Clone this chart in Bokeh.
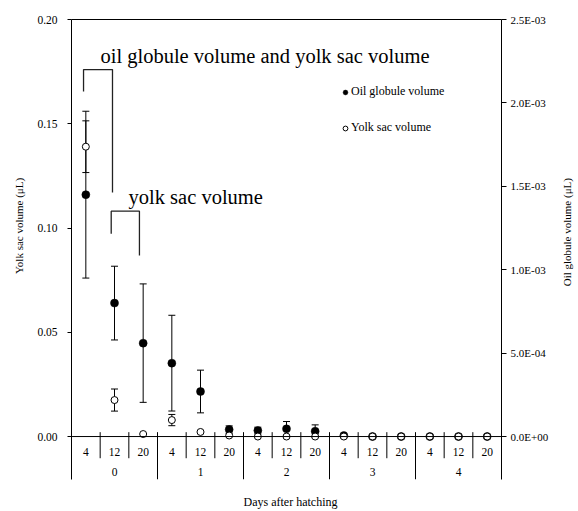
import numpy as np
from bokeh.plotting import figure
from bokeh.models import (Range1d, LinearAxis, FixedTicker, CustomJSTickFormatter,
                          PrintfTickFormatter, Whisker, TeeHead, ColumnDataSource, Span,
                          Label, Legend, LegendItem)
from bokeh.embed import file_html
from bokeh.resources import INLINE
from bokeh.core.properties import value

# Sampling schedule: days after hatching, and hour of day within each day
days = ["0", "1", "2", "3", "4"]
hours = ["4", "12", "20"]

# Yolk sac volume (uL), mean and SD, one value per sampling time
yolk_mean = [0.139, 0.0175, 0.0012, 0.0079, 0.0022, 0.0005, 0.0, 0.0, 0.0, 0.0,
             0.0, 0.0, 0.0, 0.0, 0.0]
yolk_sd = [0.0124, 0.0053, 0.0, 0.0027, 0.0, 0.0, 0.0, 0.0, 0.0, 0.0,
           0.0, 0.0, 0.0, 0.0, 0.0]

# Oil globule volume (uL), mean and SD
oil_mean = [1.45e-3, 0.80e-3, 0.56e-3, 0.44e-3, 0.27e-3, 0.042e-3, 0.036e-3, 0.046e-3,
            0.032e-3, 0.006e-3, 0.0, 0.0, 0.0, 0.0, 0.0]
oil_sd = [0.50e-3, 0.221e-3, 0.355e-3, 0.287e-3, 0.128e-3, 0.022e-3, 0.02e-3, 0.044e-3,
          0.038e-3, 0.0, 0.0, 0.0, 0.0, 0.0, 0.0]

yolk_ticks = [0.0, 0.05, 0.10, 0.15, 0.20]
oil_ticks = [0.0, 0.0005, 0.0010, 0.0015, 0.0020, 0.0025]

FONT = "Liberation Serif"

n_hours = len(hours)
n_slots = len(days) * n_hours
x = np.arange(n_slots) + 0.5

y_lo, y_hi = -0.0206, 0.20
ratio = oil_ticks[-1] / yolk_ticks[-1]

p = figure(width=578, height=511, output_backend="svg", toolbar_location=None,
           x_range=Range1d(0, n_slots), y_range=Range1d(y_lo, y_hi),
           x_axis_location=None, min_border_left=71, min_border_right=77,
           min_border_top=19, min_border_bottom=32)
p.extra_y_ranges = {"oil": Range1d(y_lo * ratio, y_hi * ratio)}
p.outline_line_color = None
p.xgrid.visible = False
p.ygrid.visible = False
p.background_fill_color = "white"
p.border_fill_color = "white"

# left axis: yolk sac volume
ax = p.yaxis[0]
ax.ticker = FixedTicker(ticks=yolk_ticks)
ax.formatter = PrintfTickFormatter(format="%.2f")
ax.minor_tick_line_color = None
ax.major_tick_in = 0
ax.major_tick_out = 4
ax.major_label_standoff = 10
ax.major_label_text_font = FONT
ax.major_label_text_font_size = "11.5px"
ax.major_label_text_color = "black"
ax.axis_line_color = "black"

# right axis: oil globule volume
rax = LinearAxis(y_range_name="oil", ticker=FixedTicker(ticks=oil_ticks),
                 formatter=CustomJSTickFormatter(code="""
                     const s = tick.toExponential(1).toUpperCase().split("E");
                     let e = parseInt(s[1]);
                     const sign = e < 0 ? "-" : "+";
                     e = Math.abs(e);
                     return s[0] + "E" + sign + (e < 10 ? "0" : "") + e;
                 """),
                 minor_tick_line_color=None, major_tick_in=0, major_tick_out=5,
                 major_label_standoff=4, major_label_text_font=FONT,
                 major_label_text_font_size="11px", major_label_text_color="black")
p.add_layout(rax, "right")

# axis titles, set in the side panels beside the 0-0.20 span
title_style = dict(text_font=FONT, text_color="black", text_align="center",
                   text_baseline="middle")
p.add_layout(Label(x=-1.84, y=0.101, text="Yolk sac volume (μL)", angle=np.pi / 2,
                   text_font_size="11px", **title_style), "left")
p.add_layout(Label(x=17.27, y=0.098, text="Oil globule volume (μL)", angle=np.pi / 2,
                   text_font_size="11px", **title_style), "right")
p.add_layout(Label(x=7.64, y=-0.0315, text="Days after hatching",
                   text_font_size="12px", **title_style), "below")

# top border
top = LinearAxis(ticker=FixedTicker(ticks=[]), minor_tick_line_color=None,
                 major_label_text_font_size="0px")
p.add_layout(top, "above")

# x axis line at zero and the two-level category separators
p.add_layout(Span(location=0, dimension="width", line_color="black", line_width=1))
bounds = np.arange(1, n_slots)
is_day = (bounds % n_hours) == 0
p.segment(x0=bounds[~is_day], x1=bounds[~is_day], y0=0.0021, y1=-0.0104,
          line_color="black", line_width=1)
p.segment(x0=bounds[is_day], x1=bounds[is_day], y0=0.0021, y1=y_lo,
          line_color="black", line_width=1)

hour_labels = [h for d in days for h in hours]
p.text(x=x, y=-0.0075, text=hour_labels, text_font=value(FONT), text_font_size="11.5px",
       text_align="center", text_baseline="middle", text_color="black")
day_x = np.arange(len(days)) * n_hours + n_hours / 2
p.text(x=day_x, y=-0.0171, text=days, text_font=value(FONT), text_font_size="11.5px",
       text_align="center", text_baseline="middle", text_color="black")

# error bars
ym, ys = np.array(yolk_mean), np.array(yolk_sd)
om, osd = np.array(oil_mean), np.array(oil_sd)
k = ys > 0
yolk_err = ColumnDataSource(dict(x=x[k], lo=(ym - ys)[k], hi=(ym + ys)[k]))
k = osd > 0
oil_err = ColumnDataSource(dict(x=x[k], lo=(om - osd)[k], hi=(om + osd)[k]))


def tee():
    return TeeHead(size=7, line_color="black", line_width=1)


p.add_layout(Whisker(source=oil_err, base="x", lower="lo", upper="hi", y_range_name="oil",
                     line_color="black", line_width=1, lower_head=tee(), upper_head=tee()))
p.add_layout(Whisker(source=yolk_err, base="x", lower="lo", upper="hi",
                     line_color="black", line_width=1, lower_head=tee(), upper_head=tee()))

r_oil = p.scatter(x=x, y=om, y_range_name="oil", size=8, fill_color="black",
                  line_color="black", line_width=0.5)
r_yolk = p.scatter(x=x, y=ym, size=7, fill_color="white", line_color="black", line_width=1)

legend = Legend(items=[LegendItem(label="Oil globule volume", renderers=[r_oil]),
                       LegendItem(label="Yolk sac volume", renderers=[r_yolk])],
                location=(268, 344), padding=0, margin=0, spacing=21,
                glyph_width=12, glyph_height=12, label_height=12, label_standoff=0,
                label_text_font=FONT, label_text_font_size="12px",
                label_text_color="black",
                border_line_color=None, background_fill_alpha=0)
p.add_layout(legend)

# bracket annotations with their captions
p.multi_line(xs=[[0.42, 0.42, 1.43, 1.43], [1.385, 1.385, 2.37, 2.37]],
             ys=[[0.1655, 0.176, 0.176, 0.117], [0.0972, 0.1081, 0.1081, 0.0868]],
             line_color="#222222", line_width=1.3)
p.add_layout(Label(x=1.01, y=0.1827, text="oil globule volume and yolk sac volume",
                   text_font=FONT, text_font_size="20.5px", text_baseline="alphabetic",
                   text_color="black"))
p.add_layout(Label(x=1.99, y=0.1151, text="yolk sac volume",
                   text_font=FONT, text_font_size="20.5px", text_baseline="alphabetic",
                   text_color="black"))

open("out.html", "w").write(file_html(p, INLINE))
